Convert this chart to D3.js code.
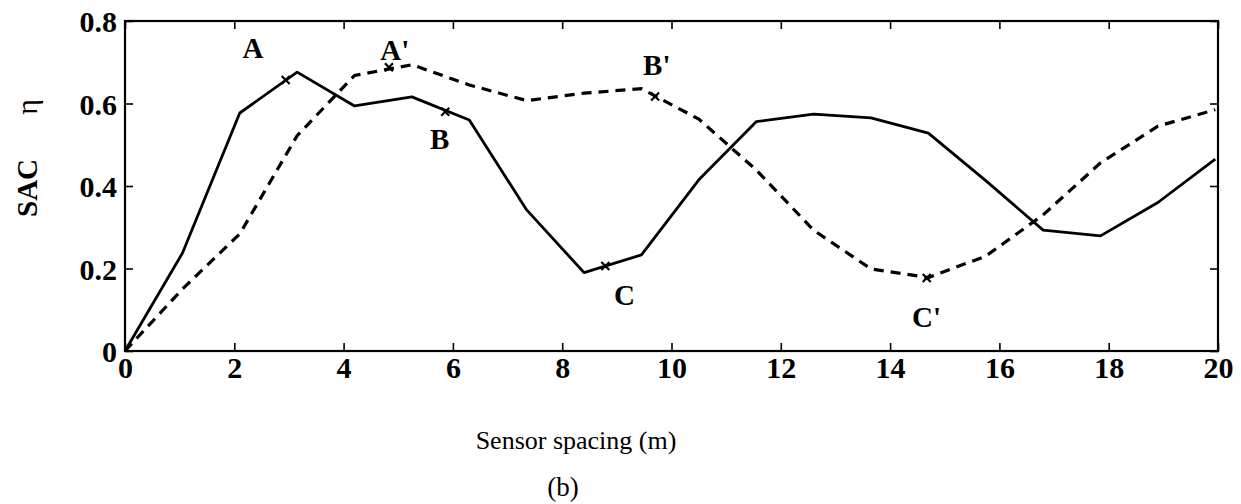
<!DOCTYPE html>
<html><head><meta charset="utf-8">
<script src="https://cdn.jsdelivr.net/npm/d3@7"></script>
<style>
html,body{margin:0;padding:0;background:#fff;}
svg text{font-family:"Liberation Serif","Times New Roman",serif;fill:#000;}
</style></head>
<body><svg id="chart" width="1241" height="504"></svg>
<script>
// ---- data ----
const spacing = [0, 1.05, 2.1, 3.15, 4.2, 5.25, 6.3, 7.35, 8.4, 9.45, 10.5, 11.55, 12.6, 13.65, 14.7, 15.75, 16.8, 17.85, 18.9, 19.95];
const sacSolid = [0, 0.237, 0.577, 0.676, 0.594, 0.616, 0.56, 0.342, 0.19, 0.233, 0.415, 0.556, 0.574, 0.565, 0.528, 0.413, 0.293, 0.279, 0.36, 0.465];
const sacDashed = [0, 0.15, 0.284, 0.522, 0.668, 0.694, 0.645, 0.607, 0.625, 0.636, 0.562, 0.439, 0.293, 0.199, 0.178, 0.23, 0.33, 0.456, 0.545, 0.585];
const solidMarkers = [[2.94, 0.657], [5.86, 0.58], [8.79, 0.206]];
const dashedMarkers = [[4.83, 0.688], [9.7, 0.617], [14.67, 0.177]];
const pointLabels = [
  {t: "A", x: 2.15, y: 0.71},
  {t: "A'", x: 4.67, y: 0.705},
  {t: "B", x: 5.58, y: 0.49},
  {t: "B'", x: 9.48, y: 0.67},
  {t: "C", x: 8.95, y: 0.112},
  {t: "C'", x: 14.4, y: 0.058}
];
const xTicks = [0, 2, 4, 6, 8, 10, 12, 14, 16, 18, 20];
const yTicks = [0, 0.2, 0.4, 0.6, 0.8];
const xTitle = "Sensor spacing (m)";
const yTitle = "SAC";
const yTitleSym = "η";
const caption = "(b)";

// ---- layout ----
const svg = d3.select("#chart");
const L = 125, R = 1218, T = 21, B = 351;
const x = d3.scaleLinear().domain([0, 20]).range([L, R]);
const y = d3.scaleLinear().domain([0, 0.8]).range([B, T]);

// box
svg.append("rect").attr("x", L).attr("y", T).attr("width", R - L).attr("height", B - T)
  .attr("fill", "none").attr("stroke", "#000").attr("stroke-width", 2.2);

const tickFont = 30;
// bottom axis
const xb = svg.append("g").attr("transform", `translate(0,${B})`)
  .call(d3.axisBottom(x).tickValues(xTicks).tickFormat(d3.format("d")).tickSizeInner(-8).tickSizeOuter(0).tickPadding(5));
xb.select(".domain").remove();
xb.selectAll("line").attr("stroke", "#000").attr("stroke-width", 1.6);
xb.selectAll("text").attr("font-size", tickFont).attr("font-weight", "bold").attr("dy", "0.72em")
  .style("font-family", '"Liberation Serif",serif');
// top ticks
const xt = svg.append("g").attr("transform", `translate(0,${T})`)
  .call(d3.axisTop(x).tickValues(xTicks).tickFormat("").tickSizeInner(-8).tickSizeOuter(0));
xt.select(".domain").remove();
xt.selectAll("line").attr("stroke", "#000").attr("stroke-width", 1.6);
// left axis
const yl = svg.append("g").attr("transform", `translate(${L},0)`)
  .call(d3.axisLeft(y).tickValues(yTicks).tickFormat(d => d === 0 ? "0" : d3.format(".1f")(d)).tickSizeInner(-8).tickSizeOuter(0).tickPadding(8));
yl.select(".domain").remove();
yl.selectAll("line").attr("stroke", "#000").attr("stroke-width", 1.6);
yl.selectAll("text").attr("font-size", tickFont).attr("font-weight", "bold").attr("dy", "0.35em")
  .style("font-family", '"Liberation Serif",serif');
// right ticks
const yr = svg.append("g").attr("transform", `translate(${R},0)`)
  .call(d3.axisRight(y).tickValues(yTicks).tickFormat("").tickSizeInner(-8).tickSizeOuter(0));
yr.select(".domain").remove();
yr.selectAll("line").attr("stroke", "#000").attr("stroke-width", 1.6);

// lines
const line = d3.line().x((d, i) => x(spacing[i])).y(d => y(d));
svg.append("path").datum(sacSolid).attr("d", line).attr("fill", "none")
  .attr("stroke", "#000").attr("stroke-width", 2.8).attr("stroke-linejoin", "round");
svg.append("path").datum(sacDashed).attr("d", line).attr("fill", "none")
  .attr("stroke", "#000").attr("stroke-width", 3.2).attr("stroke-dasharray", "10,7");

// x markers
const mk = solidMarkers.concat(dashedMarkers);
const s = 4;
mk.forEach(([mx, my]) => {
  const cx = x(mx), cy = y(my);
  svg.append("path").attr("d", `M${cx - s},${cy - s}L${cx + s},${cy + s}M${cx - s},${cy + s}L${cx + s},${cy - s}`)
    .attr("stroke", "#000").attr("stroke-width", 2.2);
});

// point labels
svg.selectAll("text.pl").data(pointLabels).enter().append("text").attr("class", "pl")
  .attr("x", d => x(d.x)).attr("y", d => y(d.y))
  .attr("font-size", 29).attr("font-weight", "bold").text(d => d.t);

// titles
svg.append("text").attr("x", 576).attr("y", 449).attr("text-anchor", "middle")
  .attr("font-size", 26).text(xTitle);
svg.append("text").attr("x", 563).attr("y", 496).attr("text-anchor", "middle")
  .attr("font-size", 27).text(caption);
svg.append("text").attr("transform", "translate(37,188) rotate(-90)").attr("text-anchor", "middle")
  .attr("font-size", 29).attr("font-weight", "bold").text(yTitle);
svg.append("text").attr("transform", "translate(37,107) rotate(-90)").attr("text-anchor", "middle")
  .attr("font-size", 30).text(yTitleSym);
</script></body></html>
